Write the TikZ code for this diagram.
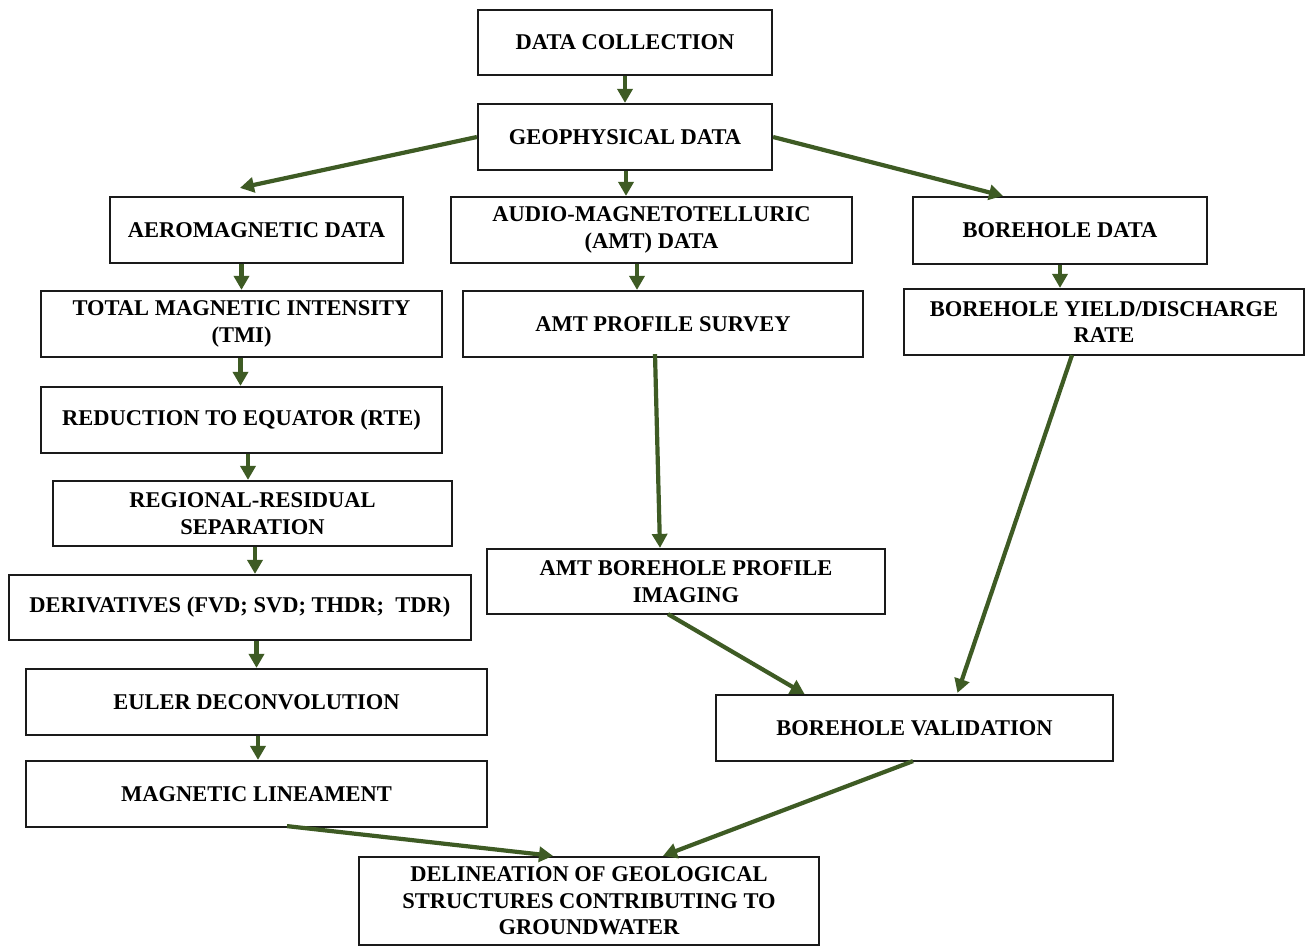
\documentclass[tikz,border=0pt]{standalone}
\usepackage{fontspec}
\setmainfont{Liberation Serif}
\usetikzlibrary{arrows.meta}
\definecolor{arrgreen}{HTML}{3E5B24}
\definecolor{boxline}{HTML}{1A1A1A}
\begin{document}
\begin{tikzpicture}[x=1pt,y=-1pt,
  box/.style={draw=boxline, line width=2.2pt, fill=white, align=center, inner sep=0pt,
    font=\fontsize{22.5}{26.5}\selectfont\bfseries,
    execute at begin node={\vspace*{5pt}}},
  arr/.style={draw=arrgreen, line width=4.2pt, -{Triangle[length=14pt,width=15pt]}}
]
\useasboundingbox (0,0) rectangle (1309,947);
\fill[white] (0,0) rectangle (1309,947);

\node[box, minimum width=294pt, minimum height=65pt] (dc) at (625,42.5) {DATA COLLECTION};
\node[box, minimum width=294pt, minimum height=66pt] (geo) at (625,137) {GEOPHYSICAL DATA};
\node[box, minimum width=293pt, minimum height=66pt] (aero) at (256.5,230) {AEROMAGNETIC DATA};
\node[box, minimum width=401pt, minimum height=66pt] (amt) at (651.5,230) {AUDIO-MAGNETOTELLURIC\\(AMT) DATA};
\node[box, minimum width=294pt, minimum height=67pt] (bhd) at (1060,230.5) {BOREHOLE DATA};
\node[box, minimum width=401pt, minimum height=66pt] (tmi) at (241.5,324) {TOTAL MAGNETIC INTENSITY\\(TMI)};
\node[box, minimum width=400pt, minimum height=66pt] (amtps) at (663,324) {AMT PROFILE SURVEY};
\node[box, minimum width=400pt, minimum height=66pt] (bhy) at (1104,322) {BOREHOLE YIELD/DISCHARGE\\RATE};
\node[box, minimum width=401pt, minimum height=66pt] (rte) at (241.5,420) {REDUCTION TO EQUATOR (RTE)};
\node[box, minimum width=399pt, minimum height=65pt] (reg) at (252.5,513.5) {REGIONAL-RESIDUAL\\SEPARATION};
\node[box, minimum width=462pt, minimum height=65pt] (der) at (240,607.5) {DERIVATIVES (FVD; SVD; THDR;\ \ TDR)};
\node[box, minimum width=461pt, minimum height=66pt] (euler) at (256.5,702) {EULER DECONVOLUTION};
\node[box, minimum width=461pt, minimum height=66pt] (mag) at (256.5,794) {MAGNETIC LINEAMENT};
\node[box, minimum width=398pt, minimum height=65pt] (img) at (686,581.5) {AMT BOREHOLE PROFILE\\IMAGING};
\node[box, minimum width=397pt, minimum height=66pt] (val) at (914.5,728) {BOREHOLE VALIDATION};
\node[box, minimum width=460pt, minimum height=88pt] (del) at (589,901) {DELINEATION OF GEOLOGICAL\\STRUCTURES CONTRIBUTING TO\\GROUNDWATER};

% vertical arrows
\draw[arr] (dc.south) -- (geo.north);
\draw[arr] ([xshift=1pt]geo.south) -- ([xshift=1pt]geo.south |- amt.north);
\draw[arr] (tmi.north |- aero.south) -- (tmi.north);
\draw[arr] ([xshift=-1pt]tmi.south) -- ([xshift=-1pt]rte.north);
\draw[arr] ([xshift=6.5pt]rte.south) -- ([xshift=6.5pt]rte.south |- reg.north);
\draw[arr] ([xshift=2.5pt]reg.south) -- ([xshift=2.5pt]reg.south |- der.north);
\draw[arr] (euler.north |- der.south) -- (euler.north);
\draw[arr] ([xshift=1.5pt]euler.south) -- ([xshift=1.5pt]mag.north);
\draw[arr] ([xshift=-14.5pt]amt.south) -- ([xshift=-14.5pt]amt.south |- amtps.north);
\draw[arr] (bhd.south) -- (bhd.south |- bhy.north);

% slanted arrows
\draw[arr] (geo.west) -- ([xshift=-16.5pt,yshift=8pt]aero.north);
\draw[arr] (geo.east) -- ([xshift=-57pt]bhd.north);
\draw[arr] ([xshift=-8pt,yshift=4pt]amtps.south) -- ([xshift=-26pt]img.north);
\draw[arr] ([xshift=-32pt,yshift=1pt]bhy.south) -- ([xshift=43pt,yshift=1pt]val.north);
\draw[arr] ([xshift=-18pt,yshift=1pt]img.south) -- ([xshift=-110pt]val.north);
\draw[arr] ([xshift=30.5pt,yshift=2pt]mag.south) -- ([xshift=-36pt]del.north);
\draw[arr] ([xshift=-1.5pt,yshift=1pt]val.south) -- ([xshift=74pt]del.north);
\end{tikzpicture}
\end{document}
